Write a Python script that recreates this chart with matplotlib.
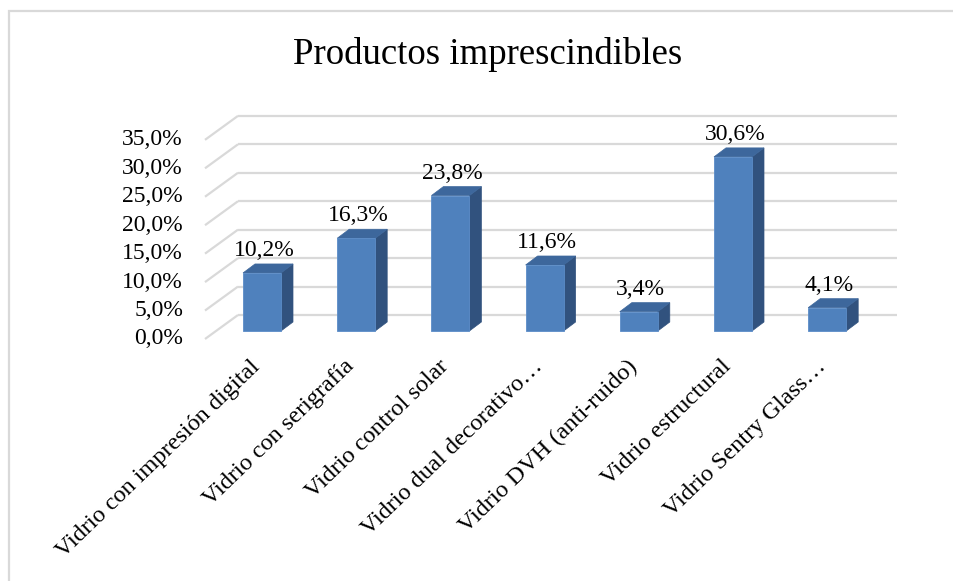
import matplotlib.pyplot as plt
from matplotlib.patches import Polygon, Rectangle

categories = ["Vidrio con impresión digital", "Vidrio con serigrafía",
              "Vidrio control solar", "Vidrio dual decorativo…",
              "Vidrio DVH (anti-ruido)", "Vidrio estructural",
              "Vidrio Sentry Glass…"]
values = [10.2, 16.3, 23.8, 11.6, 3.4, 30.6, 4.1]
yticks = [0, 5, 10, 15, 20, 25, 30, 35]

plt.rcParams['font.family'] = ['Liberation Serif', 'DejaVu Serif']

W, H = 954, 581
fig = plt.figure(figsize=(W / 100, H / 100), dpi=100)

# px geometry of the reference (y measured from top)
x0_px, step_px = 262, 94.2      # first bar centre, bar spacing
base_px, per_pct = 331, 5.69    # bar baseline, pixels per percent
ax_l, ax_r, ax_t, ax_b = 150, 930, 60, 360

ax = fig.add_axes([ax_l / W, 1 - ax_b / H, (ax_r - ax_l) / W, (ax_b - ax_t) / H])
ax.set_xlim((ax_l - x0_px) / step_px, (ax_r - x0_px) / step_px)
ax.set_ylim(-(ax_b - base_px) / per_pct, (base_px - ax_t) / per_pct)
ax.axis('off')


def px_x(d):
    return d / step_px


def px_y(d):
    return d / per_pct


grid_c = '#D9D9D9'
back_dy = px_y(16)      # back wall above bar baseline
front_dy = px_y(-8)     # front edge below bar baseline
wall_l_back = px_x(238 - x0_px)
wall_l_front = px_x(205 - x0_px)
wall_r = px_x(897 - x0_px)

for v in yticks:
    ax.plot([wall_l_back, wall_r], [v + back_dy, v + back_dy], color=grid_c, lw=1.6,
            solid_capstyle='butt', zorder=1)
    ax.plot([wall_l_front, wall_l_back], [v + front_dy, v + back_dy], color=grid_c, lw=1.6,
            solid_capstyle='butt', zorder=1)
    ax.text(px_x(183 - x0_px), v + front_dy, f"{v:.1f}%".replace('.', ','),
            ha='right', va='center', fontsize=17, color='#000000')

# 3D-ish bars
bw = px_x(38)
ddx, ddy = px_x(12), px_y(9)
front_c, side_c, top_c = '#4F81BD', '#31527E', '#3D679C'
for i, v in enumerate(values):
    xl = i - bw / 2
    xr = i + bw / 2
    ax.add_patch(Polygon([(xr, 0), (xr + ddx, ddy), (xr + ddx, v + ddy), (xr, v)],
                         closed=True, fc=side_c, ec=side_c, lw=0.5, zorder=3))
    ax.add_patch(Polygon([(xl, v), (xr, v), (xr + ddx, v + ddy), (xl + ddx, v + ddy)],
                         closed=True, fc=top_c, ec=top_c, lw=0.5, zorder=3))
    ax.add_patch(Rectangle((xl, 0), bw, v, fc=front_c, ec='#5B8CC8', lw=0.6, zorder=4))
    ax.text(i + px_x(2), v + ddy + px_y(3), f"{v:.1f}%".replace('.', ','),
            ha='center', va='bottom', fontsize=17, color='#000000', zorder=5)

for i, lab in enumerate(categories):
    ax.text(i + px_x(-12), px_y(-25), lab, rotation=44, rotation_mode='anchor',
            ha='right', va='top', fontsize=17.5, color='#000000', clip_on=False)

fig.text(488 / W, 1 - 55 / H, "Productos imprescindibles", ha='center', va='center',
         fontsize=26.5, color='#000000')

# outer chart border
fig.add_artist(Rectangle((9 / W, -0.05), 1.2, 1 - 11 / H + 0.05, transform=fig.transFigure,
                         fill=False, ec=grid_c, lw=1.6))

fig.savefig('out.png', dpi=100)
